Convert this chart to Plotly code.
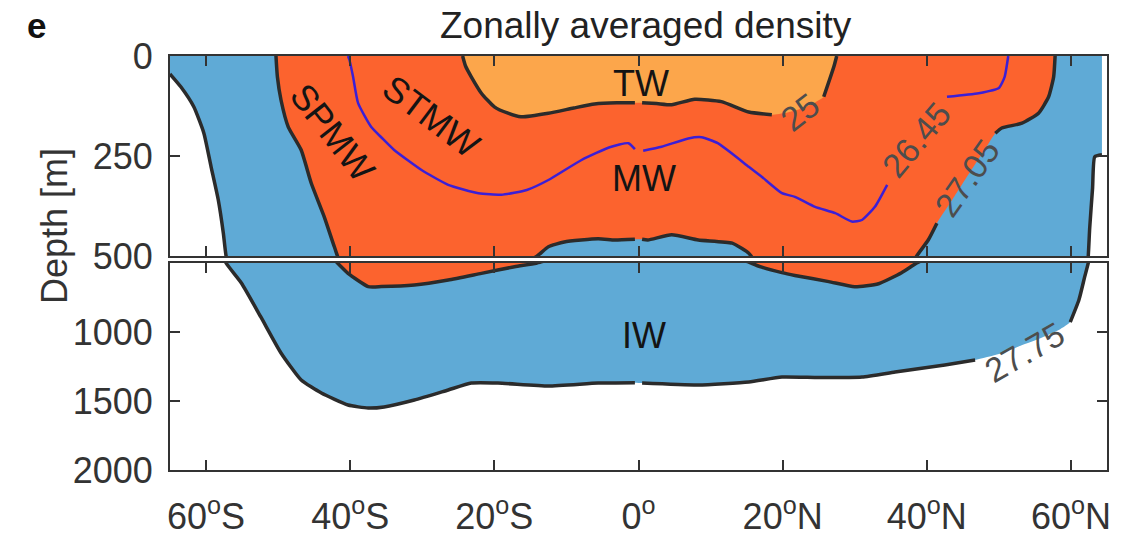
import plotly.graph_objects as go

# Isopycnal depths (m) versus latitude (deg, negative = south), zonally averaged
levels = ["25", "26.45", "27.05", "27.75"]

lat_25 = [-24.4, -24.0, -23.2, -21.8, -20.0, -18.1, -16.3, -12.5, -9.0, -6.1, -3.0, -0.5,
          0.5, 2.5, 4.6, 7.8, 11.5, 15.3, 18.5, 20.5, 22.5, 24.5, 25.7, 27.1, 27.5]
dep_25 = [0, 25, 52, 93, 127, 143, 152, 143, 130, 120, 117, 117,
          117, 119, 122, 108, 114, 140, 147, 142, 132, 116, 102, 27, 0]

lat_2645 = [-40.3, -40.1, -39.6, -38.9, -37.1, -35.6, -33.9, -30.1, -26.4, -22.2, -19.0,
            -15.5, -12.5, -7.9, -4.0, -1.4, -0.5, 0.65, 3.2, 6.9, 8.75, 11.0, 15.3, 17.1,
            19.9, 21.7, 24.5, 27.3, 29.6, 31.0, 32.8, 34.5, 42.8, 47.2, 50.0, 50.8, 51.3]
dep_2645 = [0, 10, 52, 118, 177, 205, 235, 285, 322, 343, 347,
            335, 310, 260, 228, 218, 233, 237, 227, 206, 203, 218, 277, 302,
            343, 352, 377, 393, 414, 410, 377, 322, 102, 93, 80, 52, 0]

lat_2705 = [-50.3, -50.1, -49.6, -48.6, -46.8, -45.4, -43.6, -42.2, -40.3, -37.5, -35.7,
            -31.1, -26.4, -21.8, -17.2, -14.2, -12.5, -10.3, -5.6, -3.3, -0.5, 0.5, 1.3,
            4.6, 8.3, 13.0, 15.3, 15.7, 17.1, 19.9, 21.7, 26.4, 30.0, 33.3, 36.5, 38.6,
            40.2, 41.4, 43.5, 46.0, 48.0, 49.5, 50.4, 53.2, 55.5, 56.9, 57.6, 57.8]
dep_2705 = [0, 52, 110, 177, 235, 318, 402, 477, 575, 671, 671,
            659, 623, 575, 527, 502, 477, 465, 457, 460, 458, 458, 460,
            447, 460, 468, 493, 502, 530, 570, 590, 635, 672, 650, 570, 500,
            460, 418, 360, 290, 235, 193, 180, 168, 143, 102, 52, 0]

lat_2775 = [-65.0, -64.9, -63.5, -61.7, -60.3, -59.3, -58.3, -57.6, -57.2, -55.1, -52.4,
            -49.6, -46.8, -44.0, -40.3, -37.5, -35.3, -31.1, -26.4, -23.2, -19.5, -12.5,
            -5.6, -0.5, 0.5, 8.3, 15.3, 19.9, 25.0, 31.0, 35.6, 42.5, 46.7, 50.0, 53.0,
            56.0, 58.5, 59.9, 61.1, 61.9, 62.4, 62.6, 63.0, 63.3, 64.3]
dep_2775 = [45, 47, 77, 127, 193, 277, 360, 443, 502, 645, 891,
            1152, 1348, 1442, 1529, 1551, 1543, 1493, 1420, 1370, 1370, 1391,
            1370, 1367, 1370, 1384, 1362, 1326, 1330, 1326, 1290, 1239, 1203, 1160, 1100,
            1040, 980, 928, 768, 601, 500, 430, 330, 252, 247]

x_ticks = [-60, -40, -20, 0, 20, 40, 60]
x_ticklabels = ["60<sup>o</sup>S", "40<sup>o</sup>S", "20<sup>o</sup>S", "0<sup>o</sup>",
                "20<sup>o</sup>N", "40<sup>o</sup>N", "60<sup>o</sup>N"]

FONT = "Liberation Sans, Arial, sans-serif"
C_IW = "#5faad6"
C_MW = "#fc632e"
C_TW = "#fca64b"
C_LINE = "#2b2b2b"
C_2645 = "#3b1fd6"
WEST, EAST = -65, 65
DATA_EAST = 64.3
SMOOTH = 0.5

# breaks in the drawn contour lines: the equator seam and the inline labels
EQ_GAP = (-0.3, 0.3)
label_gaps = {"25": (19.0, 25.5), "26.45": (34.6, 42.7),
              "27.05": (41.5, 49.4), "27.75": (46.8, 59.8)}


def gapped(lat, dep, gaps):
    xs, ys, last = [], [], None
    for x, y in zip(lat, dep):
        if any(lo < x < hi for lo, hi in gaps):
            if xs and xs[-1] is not None:
                xs.append(None)
                ys.append(None)
            last = None
            continue
        if last is not None and any(min(last, x) < hi and max(last, x) > lo for lo, hi in gaps):
            xs.append(None)
            ys.append(None)
        xs.append(x)
        ys.append(y)
        last = x
    return xs, ys


fig = go.Figure()

# repeated vertices keep the smoothed outline sharp at the section's corners
iw_x = [WEST, WEST, WEST] + lat_2775 + [lat_2775[-1], DATA_EAST, DATA_EAST, DATA_EAST, WEST, WEST]
iw_y = [0, 0, dep_2775[0]] + dep_2775 + [dep_2775[-1], 0, 0, 0, 0, 0]

for xa, ya in (("x", "y"), ("x2", "y2")):
    # filled water-mass layers
    fig.add_trace(go.Scatter(
        x=iw_x, y=iw_y,
        fill="toself", fillcolor=C_IW, mode="lines",
        line=dict(width=0, shape="spline", smoothing=SMOOTH),
        hoverinfo="skip", showlegend=False, xaxis=xa, yaxis=ya))
    fig.add_trace(go.Scatter(
        x=lat_2705, y=dep_2705, fill="toself", fillcolor=C_MW, mode="lines",
        line=dict(width=0, shape="spline", smoothing=SMOOTH),
        hoverinfo="skip", showlegend=False, xaxis=xa, yaxis=ya))
    fig.add_trace(go.Scatter(
        x=lat_25, y=dep_25, fill="toself", fillcolor=C_TW, mode="lines",
        line=dict(width=0, shape="spline", smoothing=SMOOTH),
        hoverinfo="skip", showlegend=False, xaxis=xa, yaxis=ya))

    # contour lines
    for name, lat, dep, color, width in (
            ("25", lat_25, dep_25, C_LINE, 3.5),
            ("27.05", lat_2705, dep_2705, C_LINE, 3.5),
            ("27.75", lat_2775, dep_2775, C_LINE, 3.5),
            ("26.45", lat_2645, dep_2645, C_2645, 2.5)):
        gx, gy = gapped(lat, dep, [EQ_GAP, label_gaps[name]])
        fig.add_trace(go.Scatter(
            x=gx, y=gy, mode="lines",
            line=dict(color=color, width=width, shape="spline", smoothing=SMOOTH),
            connectgaps=False, hoverinfo="skip", showlegend=False, xaxis=xa, yaxis=ya))

axis_common = dict(
    showline=True, linecolor="#333333", linewidth=2, mirror="ticks",
    ticks="inside", ticklen=10, tickwidth=2, tickcolor="#333333",
    showgrid=False, zeroline=False, automargin=False,
    tickfont=dict(family=FONT, size=36, color="#333333"),
)

fig.update_layout(
    width=1134, height=536,
    margin=dict(l=170, r=27, t=56, b=66),
    paper_bgcolor="white", plot_bgcolor="white",
    xaxis=dict(domain=[0, 1], anchor="y", range=[WEST, EAST], matches="x2",
               tickvals=x_ticks, showticklabels=False, **axis_common),
    xaxis2=dict(domain=[0, 1], anchor="y2", range=[WEST, EAST],
                tickvals=x_ticks, ticktext=x_ticklabels, ticklabelstandoff=14,
                **axis_common),
    yaxis=dict(domain=[214 / 414, 1], anchor="x", range=[500, 0],
               tickvals=[0, 250, 500], ticklabelstandoff=8, **axis_common),
    yaxis2=dict(domain=[0, 207 / 414], anchor="x2", range=[2000, 500],
                tickvals=[1000, 1500, 2000], ticklabelstandoff=8, **axis_common),
)

annotations = []


def label(text, x, y, xref, yref, angle=0, color="#141414", size=36):
    annotations.append(dict(
        text=text, x=x, y=y, xref=xref, yref=yref, showarrow=False,
        textangle=angle, xanchor="center", yanchor="middle",
        font=dict(family=FONT, size=size, color=color)))


# water-mass names
label("TW", 0.4, 68, "x", "y")
label("MW", 0.7, 305, "x", "y")
label("STMW", -28.75, 152, "x", "y", angle=37)
label("SPMW", -42.4, 190, "x", "y", angle=52)
label("IW", 0.7, 1022, "x2", "y2")

# inline contour labels
C_LAB = "#4d4d4d"
label(levels[0], 22.4, 140, "x", "y", angle=-38, color=C_LAB, size=34)
label(levels[1], 38.5, 210, "x", "y", angle=-50, color=C_LAB, size=34)
label(levels[2], 45.6, 306, "x", "y", angle=-55, color=C_LAB, size=34)
label(levels[3], 53.6, 1145, "x2", "y2", angle=-30, color=C_LAB, size=34)

# titles
annotations.append(dict(
    text="Zonally averaged density", x=(646 - 170) / 937, y=(470 - 26) / 414,
    xref="paper", yref="paper", showarrow=False, xanchor="center", yanchor="middle",
    font=dict(family=FONT, size=37, color="#222222")))
annotations.append(dict(
    text="<b>e</b>", x=(36 - 170) / 937, y=(470 - 26) / 414,
    xref="paper", yref="paper", showarrow=False, xanchor="center", yanchor="middle",
    font=dict(family=FONT, size=35, color="#111111")))
annotations.append(dict(
    text="Depth [m]", x=(54 - 170) / 937, y=(470 - 226) / 414,
    xref="paper", yref="paper", showarrow=False, textangle=-90,
    xanchor="center", yanchor="middle",
    font=dict(family=FONT, size=36, color="#333333")))

fig.update_layout(annotations=annotations)

fig.write_html("out.html")
